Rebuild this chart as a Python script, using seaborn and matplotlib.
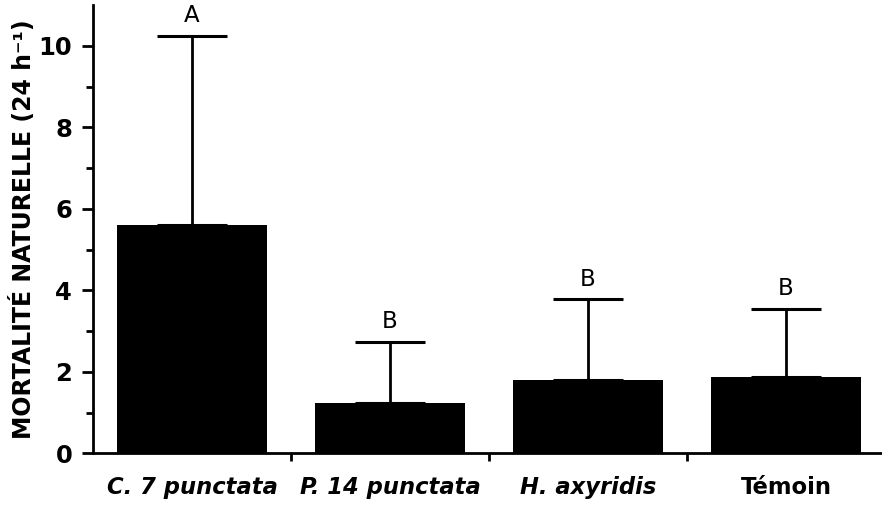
import matplotlib
matplotlib.use("Agg")
import matplotlib.pyplot as plt
import seaborn as sns
import pandas as pd
import numpy as np

categories = ["C. 7 punctata", "P. 14 punctata", "H. axyridis", "Témoin"]
means = [5.61, 1.23, 1.80, 1.88]
upper_err = [4.64, 1.51, 1.99, 1.67]
letters = ["A", "B", "B", "B"]
label_italic = [True, True, True, False]
yticks = [0, 2, 4, 6, 8, 10]

sns.set_theme(style="ticks")
plt.rcParams['font.family'] = ['DejaVu Sans']
plt.rcParams['text.color'] = 'black'
plt.rcParams['axes.labelcolor'] = 'black'
plt.rcParams['xtick.color'] = 'black'
plt.rcParams['ytick.color'] = 'black'

df = pd.DataFrame({"cat": categories, "val": means})

fig = plt.figure(figsize=(8.82, 5.05), dpi=100)
ax = fig.add_axes([93/882, 1-453.3/505, (885-93)/882, (453.3-5)/505])

sns.barplot(data=df, x="cat", y="val", color="black", width=0.76,
            errorbar=None, ax=ax, saturation=1, edgecolor="black", linewidth=0)

x = np.arange(len(categories))
ax.errorbar(x, means, yerr=[np.zeros(len(means)), upper_err], fmt="none",
            ecolor="black", elinewidth=2.0, capsize=25, capthick=2.2)

for xi, m, e, lab in zip(x, means, upper_err, letters):
    ax.annotate(lab, (xi, m + e), xytext=(0, 6), textcoords="offset points",
                ha="center", va="bottom", fontsize=16.5, color="black")

ax.set_xlim(-0.5, 3.5)
ax.set_ylim(0, 11.0)
ax.set_yticks(yticks)
ax.set_yticks([1, 3, 5, 7, 9], minor=True)
ax.set_yticklabels([str(t) for t in yticks], fontsize=17.5, fontweight="bold")
ax.set_xticks(x)
ax.set_xticklabels(categories)
for t, it in zip(ax.get_xticklabels(), label_italic):
    t.set_fontsize(16.3)
    t.set_fontweight("bold")
    t.set_fontstyle("italic" if it else "normal")
ax.set_xticks([0.5, 1.5, 2.5], minor=True)

ax.tick_params(axis="x", which="major", length=0, pad=16)
ax.tick_params(axis="x", which="minor", length=6, width=2, direction="out", color="black")
ax.tick_params(axis="y", which="major", length=8, width=2, direction="out", color="black", pad=7)
ax.tick_params(axis="y", which="minor", length=5, width=2, direction="out", color="black")

ax.set_xlabel("")
ax.set_ylabel("MORTALITÉ NATURELLE (24 h⁻¹)", fontsize=17, fontweight="bold", labelpad=2)

sns.despine(ax=ax)
ax.spines["left"].set_linewidth(2)
ax.spines["bottom"].set_linewidth(2)
ax.spines["left"].set_color("black")
ax.spines["bottom"].set_color("black")

fig.savefig("out.png", dpi=100)
